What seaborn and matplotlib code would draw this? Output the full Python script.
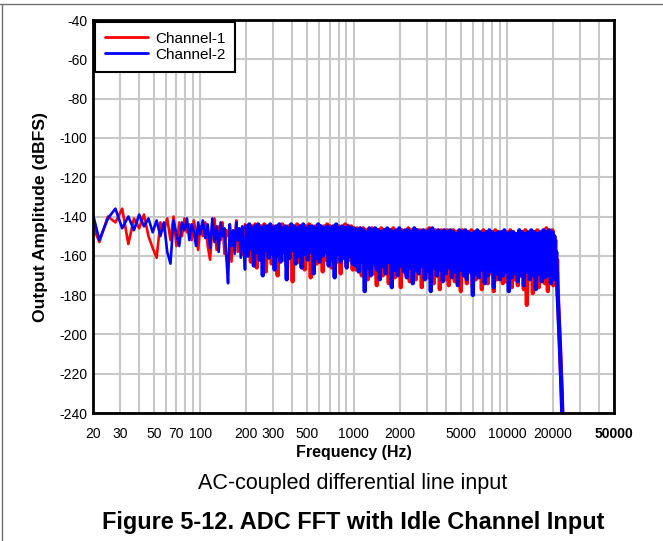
import numpy as np
import pandas as pd
import matplotlib
matplotlib.use("Agg")
import matplotlib.pyplot as plt
from matplotlib.lines import Line2D
import seaborn as sns

# ---- low band, 20-200 Hz (individual bins are visible here) ----
freq_lo = [20, 22, 25, 28, 31, 34, 37, 40, 43, 46, 49, 52, 55, 58, 61, 64, 67, 70, 73, 76, 79, 82, 85, 88, 91, 94, 97, 100,
           104, 108, 112, 116, 120, 124, 128, 132, 136, 140, 144, 148, 152, 156, 160, 164, 168, 172, 176, 180, 184, 188,
           192, 196]
ch1_lo = [-145, -153, -140, -143, -136, -154, -141, -146, -139, -150, -156, -161, -143, -147, -141, -152, -140, -155, -143,
          -150, -141, -148, -144, -152, -142, -149, -157, -145,
          -150, -143, -155, -162, -146, -141, -157, -145, -152, -143, -159, -147, -150, -144, -163, -148, -153, -142, -158,
          -146, -155, -149, -160, -144]
ch2_lo = [-139, -152, -141, -136, -146, -140, -147, -139, -145, -141, -148, -142, -150, -143, -158, -164, -142, -149, -155,
          -143, -147, -141, -152, -144, -148, -155, -143, -149,
          -142, -151, -144, -156, -141, -153, -145, -158, -143, -150, -146, -160, -174, -144, -155, -147, -159, -143, -152,
          -146, -161, -145, -154, -167]

# ---- dense band, 200-1000 Hz: bins alternate between the top and the bottom of the noise band ----
freq_mid = [200, 205, 209, 214, 219, 224, 229, 234, 239, 245, 250, 256, 262, 268, 274, 280, 286, 293, 300, 306,
            313, 320, 328, 335, 343, 351, 359, 367, 375, 384, 392, 401, 410, 420, 429, 439, 449, 459, 470, 480,
            491, 503, 514, 526, 538, 550, 563, 575, 588, 602, 615, 630, 644, 659, 674, 689, 705, 721, 737, 754,
            771, 789, 807, 825, 844, 863, 883, 903, 924, 945, 966, 988]
ch1_mid_top = [146, 145, 145, 144, 146, 145, 144, 146, 145, 145, 146, 145, 144, 146, 145, 145, 146, 144,
               145, 146, 145, 144, 146, 145, 145, 146, 145, 144, 145, 146, 145, 145, 146, 144, 145, 145]
ch1_mid_bot = [158, 163, 160, 166, 157, 161, 168, 159, 164, 160, 170, 158, 162, 165, 159, 173, 160, 163,
               158, 167, 161, 171, 159, 164, 160, 168, 162, 159, 166, 160, 163, 169, 161, 165, 162, 167]
ch2_mid_top = [145, 144, 146, 145, 144, 146, 145, 145, 144, 146, 145, 144, 146, 145, 146, 144, 145, 146,
               145, 144, 146, 145, 145, 146, 144, 145, 146, 145, 146, 145, 144, 146, 145, 146, 145, 146]
ch2_mid_bot = [160, 156, 165, 158, 162, 170, 157, 161, 159, 167, 160, 163, 158, 172, 161, 157, 164, 160,
               166, 159, 162, 158, 169, 161, 163, 160, 158, 165, 162, 171, 159, 163, 161, 166, 160, 164]

# ---- dense band, 1-20 kHz ----
freq_hi = [1011, 1034, 1058, 1082, 1107, 1132, 1158, 1184, 1211, 1239, 1267, 1296, 1325, 1355, 1386, 1418, 1450, 1483,
           1517, 1552, 1587, 1623, 1660, 1698, 1737, 1777, 1817, 1859, 1901, 1944, 1989, 2034, 2080, 2128, 2176, 2226,
           2277, 2329, 2382, 2436, 2491, 2548, 2606, 2666, 2726, 2789, 2852, 2917, 2984, 3052, 3121, 3192, 3265, 3340,
           3416, 3494, 3573, 3655, 3738, 3823, 3910, 3999, 4091, 4184, 4279, 4377, 4477, 4579, 4683, 4790, 4899, 5011,
           5125, 5242, 5361, 5483, 5608, 5736, 5867, 6000, 6137, 6277, 6420, 6566, 6716, 6869, 7025, 7185, 7349, 7516,
           7688, 7863, 8042, 8225, 8413, 8604, 8800, 9001, 9206, 9416, 9630, 9850, 10074, 10304, 10539, 10779, 11024,
           11276, 11533, 11795, 12064, 12339, 12620, 12908, 13202, 13503, 13811, 14126, 14448, 14777, 15114, 15458,
           15811, 16171, 16540, 16917, 17302, 17697, 18100, 18513, 18935, 19366, 19808, 20100]
ch1_hi_top = [147, 146, 147, 146, 147, 147, 146, 148, 147, 146, 147, 148, 147, 146, 148, 147, 147, 148, 146, 147,
              148, 147, 147, 148, 147, 146, 148, 147, 148, 147, 148, 147, 148, 147, 148, 148, 147, 149, 148, 147,
              148, 148, 149, 147, 148, 148, 149, 147, 148, 148, 149, 148, 147, 148, 149, 148, 148, 147, 149, 148,
              148, 147, 149, 148, 146, 148, 147]
ch1_hi_bot = [167, 164, 170, 166, 172, 165, 169, 175, 166, 170, 168, 174, 165, 171, 169, 176, 167, 170, 173, 168,
              172, 166, 176, 169, 171, 167, 174, 170, 177, 168, 172, 175, 169, 173, 171, 178, 170, 174, 168, 176,
              172, 170, 177, 171, 174, 169, 178, 172, 170, 174, 173, 171, 176, 172, 175, 170, 177, 185, 171, 179,
              172, 176, 170, 174, 178, 171, 175]
ch2_hi_top = [146, 147, 146, 147, 148, 146, 147, 146, 147, 148, 147, 146, 147, 148, 147, 146, 148, 147, 147, 148,
              146, 147, 148, 147, 148, 147, 146, 148, 147, 148, 147, 148, 147, 148, 149, 147, 148, 147, 148, 149,
              148, 147, 148, 149, 148, 147, 148, 149, 148, 148, 147, 149, 148, 148, 149, 147, 148, 149, 148, 147,
              148, 149, 148, 147, 148, 147, 148]
ch2_hi_bot = [165, 168, 163, 178, 166, 170, 164, 167, 172, 165, 169, 163, 176, 167, 170, 165, 168, 171, 166, 174,
              167, 169, 165, 172, 168, 178, 166, 170, 167, 173, 169, 166, 171, 168, 175, 167, 170, 172, 168, 180,
              169, 171, 167, 174, 170, 168, 176, 169, 172, 170, 168, 178, 171, 169, 173, 170, 175, 168, 172, 170,
              177, 169, 173, 171, 170, 174, 172]

# ---- anti-alias filter roll-off ----
freq_roll = [20400, 20700, 21000, 21300, 21600, 21900, 22200, 22500, 22800, 23100]
ch1_roll = [-165, -152, -172, -162, -183, -194, -205, -217, -230, -245]
ch2_roll = [-150, -168, -158, -176, -185, -196, -207, -219, -231, -246]

xtick_vals = [20, 30, 50, 70, 100, 200, 300, 500, 1000, 2000, 5000, 10000, 20000, 50000]
xminor_vals = [40, 60, 80, 90, 400, 600, 700, 800, 900, 3000, 4000, 6000, 7000, 8000, 9000, 30000, 40000]
ytick_vals = list(range(-240, -39, 20))


def zigzag(top, bot):
    # bins alternate top / bottom of the band
    return [-v for pair in zip(top, bot) for v in pair]


freq_dense = freq_mid + freq_hi + freq_roll
ch1_dense = zigzag(ch1_mid_top, ch1_mid_bot) + zigzag(ch1_hi_top, ch1_hi_bot) + ch1_roll
ch2_dense = zigzag(ch2_mid_top, ch2_mid_bot) + zigzag(ch2_hi_top, ch2_hi_bot) + ch2_roll

rows = []
for name, lo, dense in [("Channel-1", ch1_lo, ch1_dense), ("Channel-2", ch2_lo, ch2_dense)]:
    # sparse part joins the dense part at its first bin
    for f, a in zip(freq_lo + freq_dense[:1], lo + dense[:1]):
        rows.append((f, a, name, "sparse"))
    for f, a in zip(freq_dense, dense):
        rows.append((f, a, name, "dense"))
df = pd.DataFrame(rows, columns=["freq", "amp", "channel", "part"])

sns.set_style("white")
plt.rcParams["font.family"] = ["Liberation Sans", "DejaVu Sans"]
plt.rcParams["axes.unicode_minus"] = False
plt.rcParams["text.color"] = "black"
plt.rcParams["axes.labelcolor"] = "black"

colors = {"Channel-1": "#ff0000", "Channel-2": "#0000ff"}

fig = plt.figure(figsize=(6.63, 5.41), dpi=100)
ax = fig.add_axes([93 / 663, 1 - 413 / 541, (614 - 93) / 663, (413 - 20) / 541])

sns.lineplot(data=df, x="freq", y="amp", hue="channel", size="part", sizes={"sparse": 1.9, "dense": 3.0},
             palette=colors, estimator=None, sort=False, legend=False, ax=ax)

ax.set_xscale("log")
ax.set_xlim(20, 50000)
ax.set_ylim(-240, -40)
ax.set_xticks(xtick_vals)
ax.set_xticks(xminor_vals, minor=True)
ax.set_xticklabels([str(v) for v in xtick_vals])
ax.xaxis.set_minor_formatter(matplotlib.ticker.NullFormatter())
ax.get_xticklabels()[-1].set_fontweight("bold")
ax.set_yticks(ytick_vals)
ax.tick_params(axis="both", which="both", length=0, labelsize=10, colors="black")
ax.tick_params(axis="x", pad=10)
ax.tick_params(axis="y", pad=4)
ax.grid(True, which="both", color="#c8c8c8", linewidth=1.5)
ax.set_axisbelow(True)
for s in ax.spines.values():
    s.set_color("black")
    s.set_linewidth(2)

ax.set_xlabel("Frequency (Hz)", fontsize=11.5, fontweight="bold", labelpad=3)
ax.set_ylabel("Output Amplitude (dBFS)", fontsize=12.6, fontweight="bold", labelpad=8)

handles = [Line2D([], [], color=colors[k], lw=2) for k in colors]
leg = ax.legend(handles, list(colors), loc="upper left", borderaxespad=0.12, fontsize=11, handlelength=2.8,
                frameon=True, fancybox=False, borderpad=0.65, labelspacing=0.12, handletextpad=0.5)
leg.get_frame().set_edgecolor("black")
leg.get_frame().set_linewidth(1.5)
leg.get_frame().set_alpha(1)

fig.text(353 / 663, 1 - 483 / 541, "AC-coupled differential line input", ha="center", va="center", fontsize=15.5)
fig.text(353 / 663, 1 - 522 / 541, "Figure 5-12. ADC FFT with Idle Channel Input", ha="center", va="center",
         fontsize=16.9, fontweight="bold")

# page frame lines
fig.add_artist(Line2D([0, 1], [1 - 4 / 541, 1 - 4 / 541], transform=fig.transFigure, color="#707070", lw=1))
fig.add_artist(Line2D([1.5 / 663, 1.5 / 663], [0, 1 - 4 / 541], transform=fig.transFigure, color="#707070", lw=1))

fig.savefig("out.png", dpi=100)
